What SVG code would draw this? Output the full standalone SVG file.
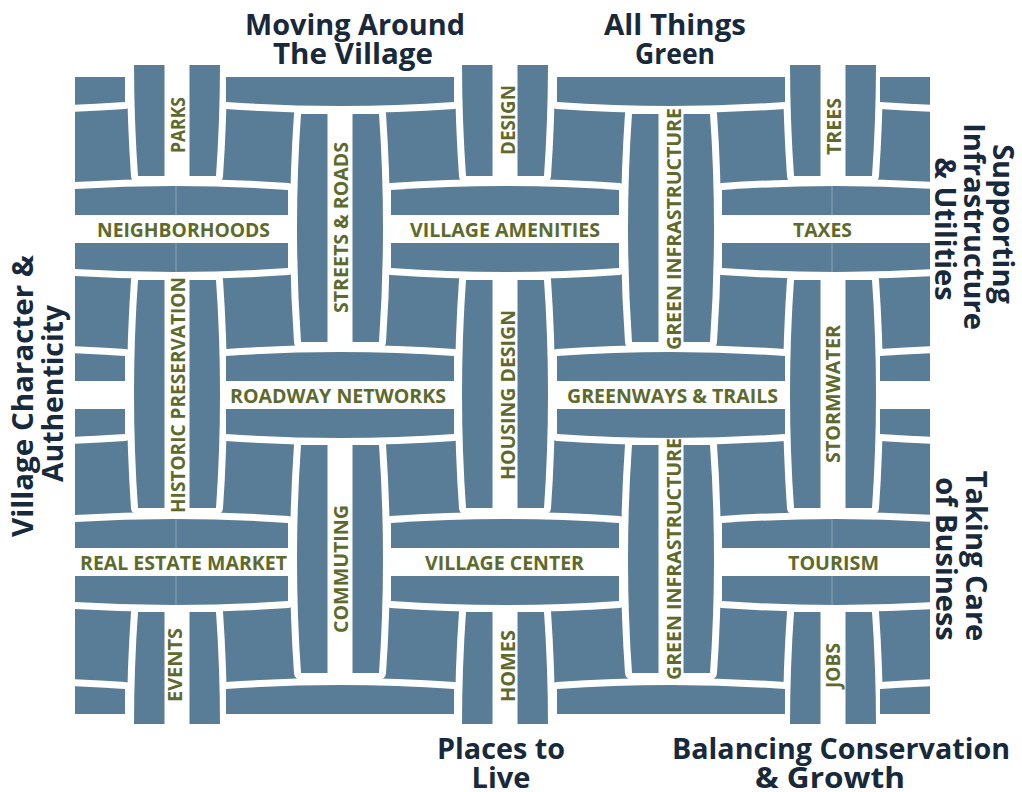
<svg xmlns="http://www.w3.org/2000/svg" width="1022" height="792" viewBox="0 0 1022 792">
<style>
.lbl{font-family:"Open Sans","Noto Sans",sans-serif;font-weight:700;font-size:19.5px;fill:#5d6a2c;stroke:none;text-anchor:middle}
.ttl{font-family:"Open Sans","Noto Sans",sans-serif;font-weight:700;font-size:29px;fill:#17293b;text-anchor:middle}
.seam{fill:#fff;fill-opacity:.3;stroke:none}
.gap{fill:#fff}
</style>
<defs>
  <clipPath id="field"><rect x="75" y="65" width="855" height="659"/></clipPath>
</defs>
<rect width="1022" height="792" fill="#fff"/>

<g clip-path="url(#field)">
  <!-- blue ground: the square blocks between the bands show through -->
  <rect x="75" y="65" width="855" height="659" fill="#5a7d97"/>
  <!-- white gutters around every band -->
  <use href="#tiles" fill="#fff" stroke="#fff" stroke-width="14" stroke-linejoin="round"/>
  <!-- white channels between the two strips of each band -->
  <g id="gaps" class="gap">
    <rect x="164.5" y="-59" width="25" height="242"/>
    <rect x="492.5" y="-59" width="25" height="242"/>
    <rect x="820.5" y="-59" width="25" height="242"/>
    <rect x="327.5" y="107" width="25" height="242"/>
    <rect x="658.5" y="107" width="25" height="242"/>
    <rect x="164.5" y="273" width="25" height="242"/>
    <rect x="492.5" y="273" width="25" height="242"/>
    <rect x="820.5" y="273" width="25" height="242"/>
    <rect x="327.5" y="438" width="25" height="242"/>
    <rect x="658.5" y="438" width="25" height="242"/>
    <rect x="164.5" y="605" width="25" height="242"/>
    <rect x="492.5" y="605" width="25" height="242"/>
    <rect x="820.5" y="605" width="25" height="242"/>
    <rect x="-110" y="49" width="242" height="28"/>
    <rect x="219" y="49" width="242" height="28"/>
    <rect x="550" y="49" width="242" height="28"/>
    <rect x="873" y="49" width="242" height="28"/>
    <rect x="53" y="215" width="242" height="28"/>
    <rect x="384" y="215" width="242" height="28"/>
    <rect x="715" y="215" width="242" height="28"/>
    <rect x="-110" y="381" width="242" height="28"/>
    <rect x="219" y="381" width="242" height="28"/>
    <rect x="550" y="381" width="242" height="28"/>
    <rect x="873" y="381" width="242" height="28"/>
    <rect x="53" y="548" width="242" height="28"/>
    <rect x="384" y="548" width="242" height="28"/>
    <rect x="715" y="548" width="242" height="28"/>
    <rect x="-110" y="714" width="242" height="28"/>
    <rect x="219" y="714" width="242" height="28"/>
    <rect x="550" y="714" width="242" height="28"/>
    <rect x="873" y="714" width="242" height="28"/>
  </g>

  <g fill="#5a7d97">
  <g id="tiles">
    <!-- vertical bands -->
    <g id="parks">
      <path d="M164.5,-52V176H138Q130,62 138,-52Z"/>
      <path d="M189.5,-52V176H216Q224,62 216,-52Z"/>
      <text class="lbl" transform="translate(185,125) rotate(-90)" textLength="56" lengthAdjust="spacingAndGlyphs">PARKS</text>
    </g>
    <g id="design">
      <path d="M492.5,-52V176H466Q458,62 466,-52Z"/>
      <path d="M517.5,-52V176H544Q552,62 544,-52Z"/>
      <text class="lbl" transform="translate(515,120) rotate(-90)" textLength="70" lengthAdjust="spacingAndGlyphs">DESIGN</text>
    </g>
    <g id="trees">
      <path d="M820.5,-52V176H794Q786,62 794,-52Z"/>
      <path d="M845.5,-52V176H872Q880,62 872,-52Z"/>
      <text class="lbl" transform="translate(841,126.5) rotate(-90)" textLength="57" lengthAdjust="spacingAndGlyphs">TREES</text>
    </g>
    <g id="streets-roads">
      <path d="M327.5,114V342H301Q293,228 301,114Z"/>
      <path d="M352.5,114V342H379Q387,228 379,114Z"/>
      <text class="lbl" transform="translate(348,227.5) rotate(-90)" textLength="171" lengthAdjust="spacingAndGlyphs">STREETS &amp; ROADS</text>
    </g>
    <g id="green-infrastructure-1">
      <path d="M658.5,114V342H632Q624,228 632,114Z"/>
      <path d="M683.5,114V342H710Q718,228 710,114Z"/>
      <text class="lbl" transform="translate(681,229) rotate(-90)" textLength="242" lengthAdjust="spacingAndGlyphs">GREEN INFRASTRUCTURE</text>
    </g>
    <g id="historic-preservation">
      <path d="M164.5,280V508H138Q130,394 138,280Z"/>
      <path d="M189.5,280V508H216Q224,394 216,280Z"/>
      <text class="lbl" transform="translate(185,395) rotate(-90)" textLength="236" lengthAdjust="spacingAndGlyphs">HISTORIC PRESERVATION</text>
    </g>
    <g id="housing-design">
      <path d="M492.5,280V508H466Q458,394 466,280Z"/>
      <path d="M517.5,280V508H544Q552,394 544,280Z"/>
      <text class="lbl" transform="translate(515,395) rotate(-90)" textLength="170" lengthAdjust="spacingAndGlyphs">HOUSING DESIGN</text>
    </g>
    <g id="stormwater">
      <path d="M820.5,280V508H794Q786,394 794,280Z"/>
      <path d="M845.5,280V508H872Q880,394 872,280Z"/>
      <text class="lbl" transform="translate(840,394) rotate(-90)" textLength="138" lengthAdjust="spacingAndGlyphs">STORMWATER</text>
    </g>
    <g id="commuting">
      <path d="M327.5,445V673H301Q293,559 301,445Z"/>
      <path d="M352.5,445V673H379Q387,559 379,445Z"/>
      <text class="lbl" transform="translate(348,569) rotate(-90)" textLength="128" lengthAdjust="spacingAndGlyphs">COMMUTING</text>
    </g>
    <g id="green-infrastructure-2">
      <path d="M658.5,445V673H632Q624,559 632,445Z"/>
      <path d="M683.5,445V673H710Q718,559 710,445Z"/>
      <text class="lbl" transform="translate(681,559) rotate(-90)" textLength="242" lengthAdjust="spacingAndGlyphs">GREEN INFRASTRUCTURE</text>
    </g>
    <g id="events">
      <path d="M164.5,612V840H138Q130,726 138,612Z"/>
      <path d="M189.5,612V840H216Q224,726 216,612Z"/>
      <text class="lbl" transform="translate(182,665) rotate(-90)" textLength="74" lengthAdjust="spacingAndGlyphs">EVENTS</text>
    </g>
    <g id="homes">
      <path d="M492.5,612V840H466Q458,726 466,612Z"/>
      <path d="M517.5,612V840H544Q552,726 544,612Z"/>
      <text class="lbl" transform="translate(515,666) rotate(-90)" textLength="72" lengthAdjust="spacingAndGlyphs">HOMES</text>
    </g>
    <g id="jobs">
      <path d="M820.5,612V840H794Q786,726 794,612Z"/>
      <path d="M845.5,612V840H872Q880,726 872,612Z"/>
      <text class="lbl" transform="translate(840,665.5) rotate(-90)" textLength="45" lengthAdjust="spacingAndGlyphs">JOBS</text>
    </g>

    <!-- horizontal bands -->
    <g id="band-top">
      <path d="M-103,77H125V102Q11,110 -103,102Z"/>
      <path d="M226,77H454V102Q340,110 226,102Z"/>
      <path d="M557,77H785V102Q671,110 557,102Z"/>
      <path d="M880,77H1108V102Q994,110 880,102Z"/>
    </g>
    <g id="neighborhoods">
      <path d="M60,215H288V190Q174,182 60,190Z"/>
      <path d="M60,243H288V268Q174,276 60,268Z"/>
      <rect class="seam" x="175.5" y="186" width="1" height="29"/>
      <rect class="seam" x="175.5" y="243" width="1" height="29"/>
      <text class="lbl" x="183.5" y="237" textLength="173" lengthAdjust="spacingAndGlyphs">NEIGHBORHOODS</text>
    </g>
    <g id="village-amenities">
      <path d="M391,215H619V190Q505,182 391,190Z"/>
      <path d="M391,243H619V268Q505,276 391,268Z"/>
      <text class="lbl" x="505" y="237" textLength="190" lengthAdjust="spacingAndGlyphs">VILLAGE AMENITIES</text>
    </g>
    <g id="taxes">
      <path d="M722,215H950V190Q836,182 722,190Z"/>
      <path d="M722,243H950V268Q836,276 722,268Z"/>
      <rect class="seam" x="831.5" y="186" width="1" height="29"/>
      <rect class="seam" x="831.5" y="243" width="1" height="29"/>
      <text class="lbl" x="822.5" y="237" textLength="59" lengthAdjust="spacingAndGlyphs">TAXES</text>
    </g>
    <g id="band-middle-left">
      <path d="M-103,381H125V356Q11,348 -103,356Z"/>
      <path d="M-103,409H125V434Q11,442 -103,434Z"/>
    </g>
    <g id="roadway-networks">
      <path d="M226,381H454V356Q340,348 226,356Z"/>
      <path d="M226,409H454V434Q340,442 226,434Z"/>
      <text class="lbl" x="338" y="403" textLength="216" lengthAdjust="spacingAndGlyphs">ROADWAY NETWORKS</text>
    </g>
    <g id="greenways-trails">
      <path d="M557,381H785V356Q671,348 557,356Z"/>
      <path d="M557,409H785V434Q671,442 557,434Z"/>
      <text class="lbl" x="672.5" y="403" textLength="211" lengthAdjust="spacingAndGlyphs">GREENWAYS &amp; TRAILS</text>
    </g>
    <g id="band-middle-right">
      <path d="M880,381H1108V356Q994,348 880,356Z"/>
      <path d="M880,409H1108V434Q994,442 880,434Z"/>
    </g>
    <g id="real-estate-market">
      <path d="M60,548H288V523Q174,515 60,523Z"/>
      <path d="M60,576H288V601Q174,609 60,601Z"/>
      <rect class="seam" x="175.5" y="519" width="1" height="29"/>
      <rect class="seam" x="175.5" y="576" width="1" height="29"/>
      <text class="lbl" x="183.5" y="569.5" textLength="207" lengthAdjust="spacingAndGlyphs">REAL ESTATE MARKET</text>
    </g>
    <g id="village-center">
      <path d="M391,548H619V523Q505,515 391,523Z"/>
      <path d="M391,576H619V601Q505,609 391,601Z"/>
      <text class="lbl" x="504.5" y="569.5" textLength="159" lengthAdjust="spacingAndGlyphs">VILLAGE CENTER</text>
    </g>
    <g id="tourism">
      <path d="M722,548H950V523Q836,515 722,523Z"/>
      <path d="M722,576H950V601Q836,609 722,601Z"/>
      <rect class="seam" x="831.5" y="519" width="1" height="29"/>
      <rect class="seam" x="831.5" y="576" width="1" height="29"/>
      <text class="lbl" x="833.5" y="569.5" textLength="91" lengthAdjust="spacingAndGlyphs">TOURISM</text>
    </g>
    <g id="band-bottom">
      <path d="M-103,714H125V689Q11,681 -103,689Z"/>
      <path d="M226,714H454V689Q340,681 226,689Z"/>
      <path d="M557,714H785V689Q671,681 557,689Z"/>
      <path d="M880,714H1108V689Q994,681 880,689Z"/>
    </g>
  </g>
  </g>
</g>

<!-- theme headings around the weave -->
<g id="theme-moving-around">
  <text class="ttl" x="355" y="35" textLength="220" lengthAdjust="spacingAndGlyphs">Moving Around</text>
  <text class="ttl" x="353" y="64" textLength="160" lengthAdjust="spacingAndGlyphs">The Village</text>
</g>
<g id="theme-all-things-green">
  <text class="ttl" x="675" y="35" textLength="142" lengthAdjust="spacingAndGlyphs">All Things</text>
  <text class="ttl" x="675" y="64" textLength="80" lengthAdjust="spacingAndGlyphs">Green</text>
</g>
<g id="theme-village-character">
  <text class="ttl" transform="translate(33,396) rotate(-90)" textLength="282" lengthAdjust="spacingAndGlyphs">Village Character &amp;</text>
  <text class="ttl" transform="translate(63,393.5) rotate(-90)" textLength="177" lengthAdjust="spacingAndGlyphs">Authenticity</text>
</g>
<g id="theme-infrastructure">
  <text class="ttl" transform="translate(993,224) rotate(90)">Supporting</text>
  <text class="ttl" transform="translate(964,226.5) rotate(90)">Infrastructure</text>
  <text class="ttl" transform="translate(935,229) rotate(90)">&amp; Utilities</text>
</g>
<g id="theme-business">
  <text class="ttl" transform="translate(966,556) rotate(90)">Taking Care</text>
  <text class="ttl" transform="translate(936,559) rotate(90)">of Business</text>
</g>
<g id="theme-places-to-live">
  <text class="ttl" x="501" y="759" textLength="128" lengthAdjust="spacingAndGlyphs">Places to</text>
  <text class="ttl" x="501" y="788">Live</text>
</g>
<g id="theme-conservation">
  <text class="ttl" x="841" y="759" textLength="338" lengthAdjust="spacingAndGlyphs">Balancing Conservation</text>
  <text class="ttl" x="830" y="788" textLength="150" lengthAdjust="spacingAndGlyphs">&amp; Growth</text>
</g>
</svg>
